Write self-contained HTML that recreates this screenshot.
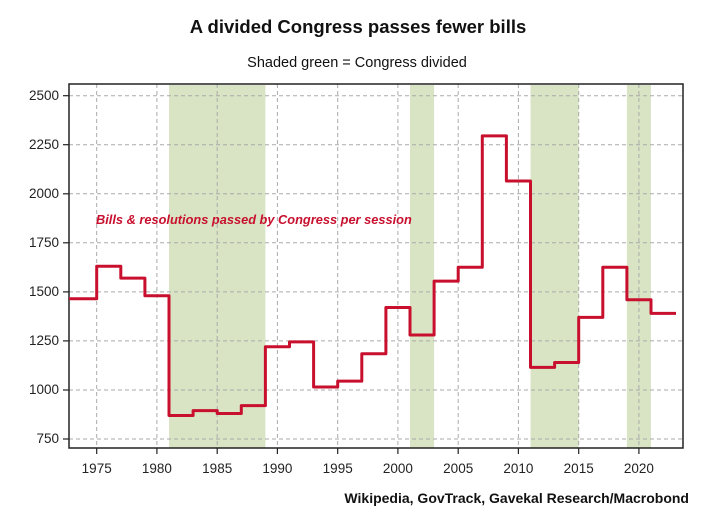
<!DOCTYPE html>
<html><head><style>body{margin:0;background:#fff}svg{display:block;font-family:"Liberation Sans",sans-serif}</style></head><body>
<svg width="714" height="522" viewBox="0 0 714 522">
<text x="358" y="33" text-anchor="middle" font-size="18.5" font-weight="bold" fill="#111">A divided Congress passes fewer bills</text>
<text x="357" y="67" text-anchor="middle" font-size="14.5" fill="#111">Shaded green = Congress divided</text>
<g fill="#d8e4c4">
<rect x="169" y="85" width="96.4" height="363"/>
<rect x="410" y="85" width="24.1" height="363"/>
<rect x="530.5" y="85" width="48.2" height="363"/>
<rect x="626.9" y="85" width="24.1" height="363"/>
</g>
<g stroke="#aaa" stroke-dasharray="4,3" stroke-width="1">
<line x1="69" x2="683" y1="95.7" y2="95.7"/><line x1="69" x2="683" y1="144.7" y2="144.7"/><line x1="69" x2="683" y1="193.8" y2="193.8"/><line x1="69" x2="683" y1="242.8" y2="242.8"/><line x1="69" x2="683" y1="291.9" y2="291.9"/><line x1="69" x2="683" y1="340.9" y2="340.9"/><line x1="69" x2="683" y1="390" y2="390"/><line x1="69" x2="683" y1="439" y2="439"/>
<line y1="84" y2="448" x1="96.7" x2="96.7"/><line y1="84" y2="448" x1="156.9" x2="156.9"/><line y1="84" y2="448" x1="217.2" x2="217.2"/><line y1="84" y2="448" x1="277.4" x2="277.4"/><line y1="84" y2="448" x1="337.7" x2="337.7"/><line y1="84" y2="448" x1="397.9" x2="397.9"/><line y1="84" y2="448" x1="458.2" x2="458.2"/><line y1="84" y2="448" x1="518.4" x2="518.4"/><line y1="84" y2="448" x1="578.7" x2="578.7"/><line y1="84" y2="448" x1="638.9" x2="638.9"/>
</g>
<rect x="69" y="84" width="614" height="364" fill="none" stroke="#222" stroke-width="1.5"/>
<g stroke="#222" stroke-width="1.2">
<line x1="63" x2="69" y1="95.7" y2="95.7"/><line x1="63" x2="69" y1="144.7" y2="144.7"/><line x1="63" x2="69" y1="193.8" y2="193.8"/><line x1="63" x2="69" y1="242.8" y2="242.8"/><line x1="63" x2="69" y1="291.9" y2="291.9"/><line x1="63" x2="69" y1="340.9" y2="340.9"/><line x1="63" x2="69" y1="390" y2="390"/><line x1="63" x2="69" y1="439" y2="439"/>
<line y1="448" y2="454" x1="96.7" x2="96.7"/><line y1="448" y2="454" x1="156.9" x2="156.9"/><line y1="448" y2="454" x1="217.2" x2="217.2"/><line y1="448" y2="454" x1="277.4" x2="277.4"/><line y1="448" y2="454" x1="337.7" x2="337.7"/><line y1="448" y2="454" x1="397.9" x2="397.9"/><line y1="448" y2="454" x1="458.2" x2="458.2"/><line y1="448" y2="454" x1="518.4" x2="518.4"/><line y1="448" y2="454" x1="578.7" x2="578.7"/><line y1="448" y2="454" x1="638.9" x2="638.9"/>
</g>
<g font-size="13.5" fill="#222" text-anchor="end">
<text x="59" y="100">2500</text><text x="59" y="149">2250</text><text x="59" y="198">2000</text><text x="59" y="247">1750</text><text x="59" y="296">1500</text><text x="59" y="345">1250</text><text x="59" y="394">1000</text><text x="59" y="443">750</text>
</g>
<g font-size="13.5" fill="#222" text-anchor="middle">
<text x="96.7" y="473">1975</text><text x="156.9" y="473">1980</text><text x="217.2" y="473">1985</text><text x="277.4" y="473">1990</text><text x="337.7" y="473">1995</text><text x="397.9" y="473">2000</text><text x="458.2" y="473">2005</text><text x="518.4" y="473">2010</text><text x="578.7" y="473">2015</text><text x="638.9" y="473">2020</text>
</g>
<path fill="none" stroke="#c8102e" stroke-width="3" stroke-linejoin="round" d="M69,298.7 H96.7 V266.3 H120.8 V278.1 H144.9 V295.8 H169 V415.5 H193.1 V410.6 H217.2 V413.5 H241.3 V405.6 H265.4 V346.8 H289.5 V341.9 H313.6 V387 H337.7 V381.1 H361.8 V353.7 H385.9 V307.5 H410 V335 H434.1 V281.1 H458.2 V267.3 H482.3 V135.9 H506.4 V181 H530.5 V367.4 H554.6 V362.5 H578.7 V317.4 H602.8 V267.3 H626.9 V299.7 H651 V313.4 H676"/>
<text x="96" y="224" font-size="12.8" font-weight="bold" font-style="italic" fill="#c8102e">Bills &amp; resolutions passed by Congress per session</text>
<text x="689" y="503" text-anchor="end" font-size="14" font-weight="bold" fill="#111">Wikipedia, GovTrack, Gavekal Research/Macrobond</text>
</svg>
</body></html>
